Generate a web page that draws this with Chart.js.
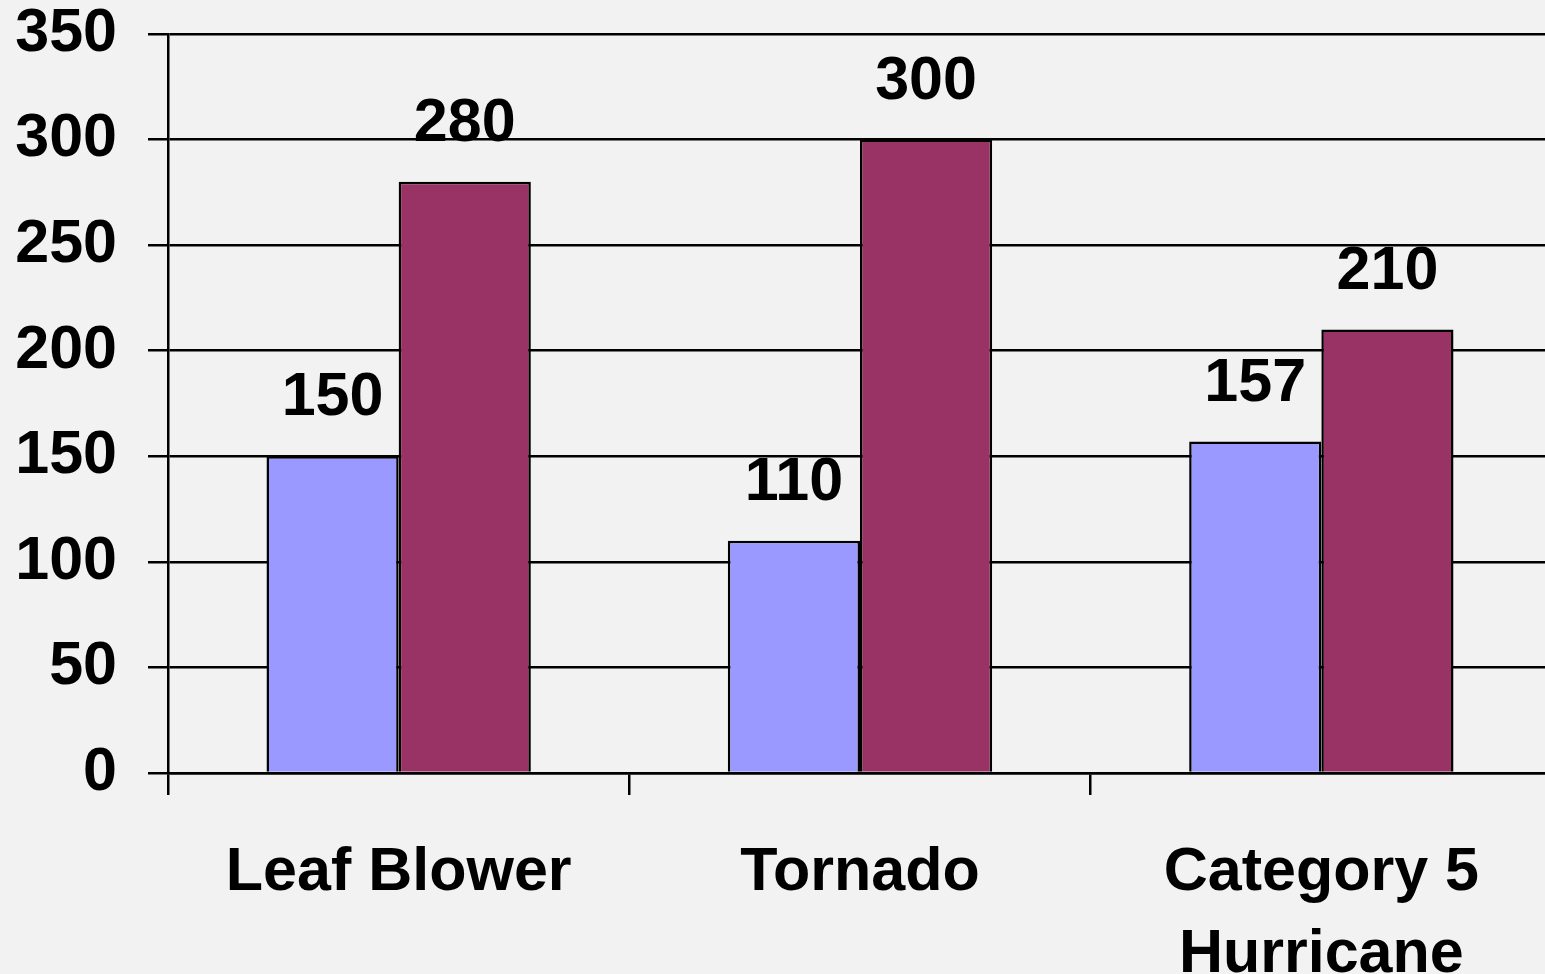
<!DOCTYPE html>
<html>
<head>
<meta charset="utf-8">
<script src="https://cdn.jsdelivr.net/npm/chart.js@4/dist/chart.umd.min.js"></script>
<style>
    html, body { margin: 0; padding: 0; background: #f2f2f2; overflow: hidden; }
    #wrap { width: 1552px; height: 974px; }
</style>
</head>
<body>
<div id="wrap"><canvas id="chart"></canvas></div>
<script>
const categories = ["Leaf Blower", "Tornado", ["Category 5", "Hurricane"]];
const firstValues = [150, 110, 157];
const secondValues = [280, 300, 210];
const yMin = 0, yMax = 350, yStep = 50;

const FONT = "'Liberation Sans', Arial, sans-serif";

const valueLabels = {
    id: "valueLabels",
    afterDatasetsDraw(chart) {
        const ctx = chart.ctx;
        ctx.save();
        ctx.font = `bold 61px ${FONT}`;
        ctx.fillStyle = "#000";
        ctx.textAlign = "center";
        ctx.textBaseline = "alphabetic";
        chart.data.datasets.forEach((ds, i) => {
            chart.getDatasetMeta(i).data.forEach((bar, j) => {
                ctx.fillText(String(ds.data[j]), bar.x, bar.y - 41);
            });
        });
        ctx.restore();
    }
};

new Chart(document.getElementById("chart").getContext("2d"), {
    type: "bar",
    data: {
        labels: categories,
        datasets: [
            { data: firstValues, backgroundColor: "#9999ff", borderColor: "#000", borderWidth: 2.5 },
            { data: secondValues, backgroundColor: "#993366", borderColor: "#000", borderWidth: 2.5 }
        ]
    },
    options: {
        responsive: true,
        maintainAspectRatio: false,
        animation: false,
        layout: { padding: { top: 34, left: 0, right: 0, bottom: 0 } },
        plugins: { legend: { display: false }, tooltip: { enabled: false } },
        datasets: { bar: { categoryPercentage: 0.573, barPercentage: 1 } },
        scales: {
            x: {
                afterFit: s => { s.height = 201; },
                grid: { offset: true, drawOnChartArea: false, drawTicks: true, tickLength: 22, color: "#000", lineWidth: 2.5 },
                border: { color: "#000", width: 2.5 },
                ticks: { color: "#000", padding: 38, maxRotation: 0, font: { family: FONT, size: 61, weight: "bold", lineHeight: 1.33 } }
            },
            y: {
                min: yMin, max: yMax,
                afterFit: s => { s.width = 168; s.paddingTop = 0; s.paddingBottom = 0; },
                grid: { color: "#000", lineWidth: 2.5, tickLength: 20 },
                border: { color: "#000", width: 2.5 },
                ticks: { stepSize: yStep, color: "#000", padding: 31, font: { family: FONT, size: 61, weight: "bold" } }
            }
        }
    },
    plugins: [valueLabels]
});
</script>
</body>
</html>
